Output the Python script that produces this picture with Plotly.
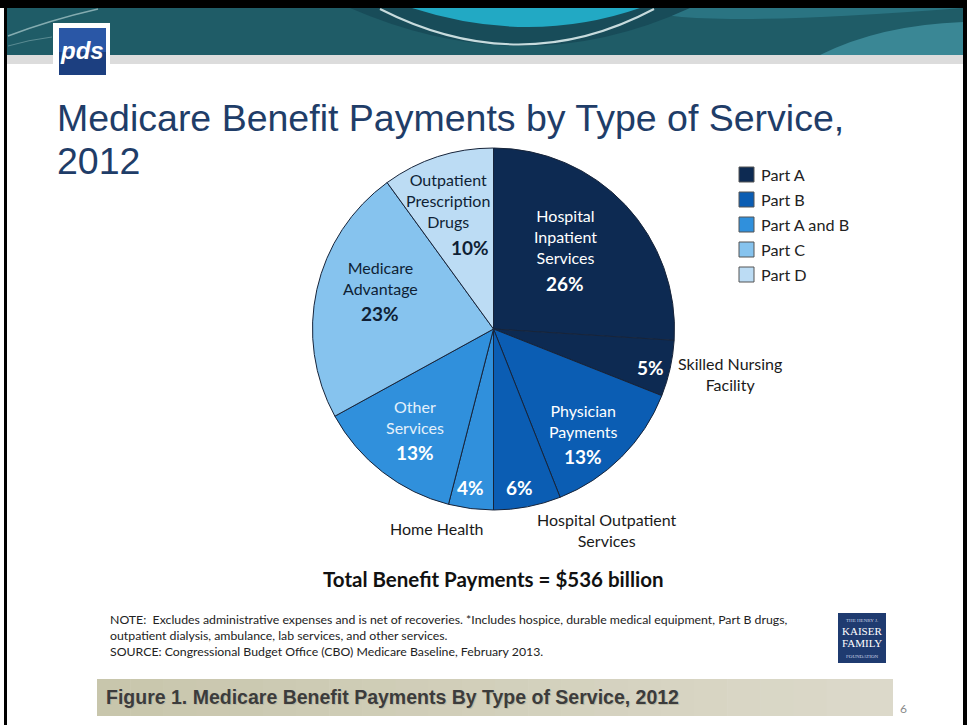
import plotly.graph_objects as go

# ---- data -------------------------------------------------------------
services = [
    "Hospital Inpatient Services",
    "Skilled Nursing Facility",
    "Physician Payments",
    "Hospital Outpatient Services",
    "Home Health",
    "Other Services",
    "Medicare Advantage",
    "Outpatient Prescription Drugs",
]
shares = [26, 5, 13, 6, 4, 13, 23, 10]
service_part = ["Part A", "Part A", "Part B", "Part B",
                "Part A and B", "Part A and B", "Part C", "Part D"]
legend_parts = ["Part A", "Part B", "Part A and B", "Part C", "Part D"]
total_billion = 536

# ---- styling ----------------------------------------------------------
W, H = 967, 725
part_colors = {
    "Part A": "#0d2a52",
    "Part B": "#0b5db3",
    "Part A and B": "#3090dc",
    "Part C": "#86c3ee",
    "Part D": "#bcdcf4",
}
BODY = "Lato, 'Open Sans', sans-serif"
ARIAL = "'Liberation Sans', Arial, sans-serif"

# label layout per slice: name lines, name centre, percent centre, colours
name_text = [
    "Hospital<br>Inpatient<br>Services",
    "Skilled Nursing<br>Facility",
    "Physician<br>Payments",
    "Hospital Outpatient<br>Services",
    "Home Health",
    "Other<br>Services",
    "Medicare<br>Advantage",
    "Outpatient<br>Prescription<br>Drugs",
]
name_xy = [(565, 236), (730, 374), (583, 421), (607, 530),
           (437, 528), (415, 417), (380, 278), (448, 201)]
pct_xy = [(565, 283), (650, 367), (583, 456), (519, 487),
          (470, 487), (415, 452), (380, 313), (470, 247)]
name_color = ["#ffffff", "#1a1a1a", "#ffffff", "#1a1a1a",
              "#1a1a1a", "#e4f0fb", "#0f1f35", "#0f1f35"]
pct_color = ["#ffffff", "#ffffff", "#ffffff", "#ffffff",
             "#ffffff", "#ffffff", "#0f1f35", "#0f1f35"]

# pie bounding box in pixels
PIE_L, PIE_R, PIE_T, PIE_B = 312, 675, 148, 510


def px(x):
    return x / W


def py(y):
    return 1 - y / H


fig = go.Figure()

fig.add_trace(go.Pie(
    labels=services,
    values=shares,
    sort=False,
    direction="clockwise",
    rotation=0,
    marker=dict(colors=[part_colors[p] for p in service_part],
                line=dict(color="#17243a", width=1)),
    textinfo="none",
    hoverinfo="label+percent",
    showlegend=False,
    domain=dict(x=[px(PIE_L), px(PIE_R)], y=[py(PIE_B), py(PIE_T)]),
))

shapes = []
annotations = []


def rect(x0, y0, x1, y1, fill, line_color=None, line_width=0, layer="below"):
    shapes.append(dict(type="rect", xref="paper", yref="paper",
                       x0=px(x0), x1=px(x1), y0=py(y1), y1=py(y0),
                       fillcolor=fill, layer=layer,
                       line=dict(color=line_color or fill, width=line_width)))


def path(points_svg, fill=None, line_color=None, line_width=0, opacity=1.0):
    shapes.append(dict(type="path", xref="paper", yref="paper",
                       path=points_svg, fillcolor=fill or "rgba(0,0,0,0)",
                       opacity=opacity, layer="below",
                       line=dict(color=line_color or "rgba(0,0,0,0)",
                                 width=line_width)))


def to_paper_path(cmds):
    # cmds: list of (letter, [x, y, x, y ...]) in pixels
    out = []
    for letter, coords in cmds:
        pts = []
        for i in range(0, len(coords), 2):
            pts.append(f"{px(coords[i]):.5f},{py(coords[i + 1]):.5f}")
        out.append(letter + " " + " ".join(pts))
    return " ".join(out)


def text(x, y, s, size, color, family=BODY, xanchor="center", bold=False,
         align="center"):
    if bold:
        s = f"<b>{s}</b>"
    annotations.append(dict(x=px(x), y=py(y), xref="paper", yref="paper",
                            text=s, showarrow=False, xanchor=xanchor,
                            yanchor="middle", align=align,
                            font=dict(size=size, color=color, family=family)))


# ---- header band --------------------------------------------------------
rect(7, 8, 963, 55, "#1f5c67")
path(to_paper_path([("M", [640, 8]), ("L", [963, 8, 963, 55, 700, 55]),
                    ("Q", [680, 30, 640, 8]), ("Z", [])]), fill="#2a7482")
path(to_paper_path([("M", [820, 55]), ("Q", [880, 25, 963, 22]),
                    ("L", [963, 55]), ("Z", [])]), fill="#3a8795")
path(to_paper_path([("M", [350, 8]), ("Q", [525, 84, 690, 8]),
                    ("Z", [])]), fill="#184c59")
path(to_paper_path([("M", [412, 8]), ("Q", [530, 46, 640, 8]),
                    ("Z", [])]), fill="#22a9c4")
path(to_paper_path([("M", [380, 9]), ("Q", [520, 80, 654, 9])]),
     line_color="rgba(230,245,245,0.85)", line_width=2)
path(to_paper_path([("M", [8, 36]), ("Q", [50, 20, 98, 9])]),
     line_color="rgba(200,225,225,0.6)", line_width=1.5)
path(to_paper_path([("M", [8, 46]), ("Q", [28, 40, 52, 37])]),
     line_color="rgba(200,225,225,0.35)", line_width=1)
rect(7, 55, 963, 64, "#dcdcdc")

# logo
rect(53, 23, 110, 78, "#ffffff")
rect(59, 28, 106, 52, "#2a57a6")
rect(59, 52, 106, 75, "#1c3f80")
text(82, 50, "<i>pds</i>", 24, "#ffffff", family=ARIAL, bold=True)

# ---- title ----------------------------------------------------------------
text(55, 118, "Medicare Benefit Payments by Type of Service,", 37.5,
     "#1f3d68", family=ARIAL, xanchor="left")
text(55, 161, "2012", 37.5, "#1f3d68", family=ARIAL, xanchor="left")

# ---- pie labels -------------------------------------------------------------
for i in range(len(services)):
    nx, ny = name_xy[i]
    text(nx, ny, name_text[i], 16, name_color[i])
    cx, cy = pct_xy[i]
    text(cx, cy, f"{shares[i]}%", 19, pct_color[i], bold=True)

# ---- legend ----------------------------------------------------------------
for k, part in enumerate(legend_parts):
    yc = 174.5 + 25 * k
    rect(739, yc - 7.5, 754, yc + 7.5, part_colors[part],
         line_color="#555555", line_width=1, layer="above")
    text(759, yc, part, 16.2, "#222222", xanchor="left")

# ---- total ----------------------------------------------------------------
text(493, 579, f"Total Benefit Payments = ${total_billion} billion", 20.5,
     "#111111", bold=True)

# ---- notes ----------------------------------------------------------------
notes = [
    "NOTE:  Excludes administrative expenses and is net of recoveries. "
    "*Includes hospice, durable medical equipment, Part B drugs,",
    "outpatient dialysis, ambulance, lab services, and other services.",
    "SOURCE: Congressional Budget Office (CBO) Medicare Baseline, February 2013.",
]
for j, line in enumerate(notes):
    text(108, 619 + 16 * j, line, 12.3, "#222222", xanchor="left")

# foundation badge
rect(838, 613, 886, 663, "#1f3b70")
text(862, 620, "THE HENRY J.", 5, "#c9d3e6", family="'Liberation Serif', serif")
text(862, 631, "KAISER", 11, "#ffffff", family="'Liberation Serif', serif")
text(862, 643, "FAMILY", 11, "#ffffff", family="'Liberation Serif', serif")
text(862, 656, "FOUNDATION", 5, "#c9d3e6", family="'Liberation Serif', serif")

# ---- footer caption bar ---------------------------------------------------
n_steps = 24
x0_bar, x1_bar = 97, 893
c0 = (200, 198, 172)
c1 = (220, 217, 202)
for s in range(n_steps):
    t = s / (n_steps - 1)
    col = tuple(round(c0[k] + (c1[k] - c0[k]) * t) for k in range(3))
    xa = x0_bar + (x1_bar - x0_bar) * s / n_steps
    xb = x0_bar + (x1_bar - x0_bar) * (s + 1) / n_steps + 0.6
    rect(xa, 679, min(xb, x1_bar), 716, "rgb(%d,%d,%d)" % col)
text(105, 698, "Figure 1. Medicare Benefit Payments By Type of Service, 2012",
     19.5, "#bcbba6", family=ARIAL, xanchor="left", bold=True)
text(104, 697, "Figure 1. Medicare Benefit Payments By Type of Service, 2012",
     19.5, "#3c3c3c", family=ARIAL, xanchor="left", bold=True)

text(903, 708, "6", 12, "#8a8a8a", family=BODY)

# ---- slide frame ----------------------------------------------------------
rect(0, 0, 967, 8, "#000000", layer="above")
rect(4, 0, 7, 725, "#000000", layer="above")
rect(963, 0, 967, 725, "#000000", layer="above")

fig.update_layout(
    width=W, height=H,
    margin=dict(l=0, r=0, t=0, b=0),
    paper_bgcolor="#ffffff",
    plot_bgcolor="#ffffff",
    shapes=shapes,
    annotations=annotations,
    showlegend=False,
)

fig.write_html("out.html")
